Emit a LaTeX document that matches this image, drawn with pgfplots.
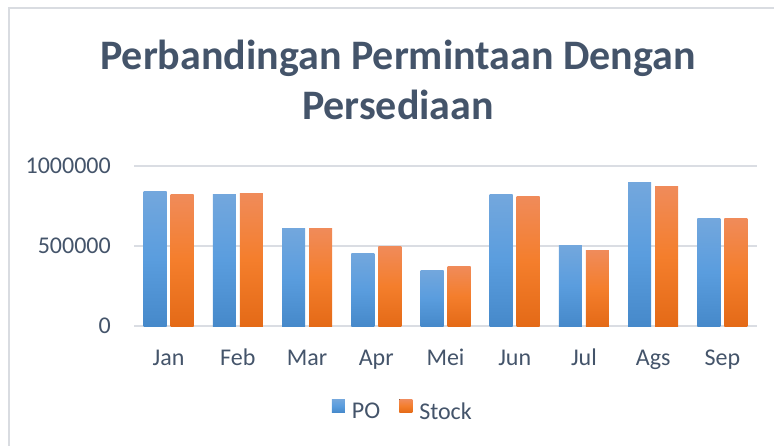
\documentclass[border=0pt]{standalone}
\usepackage{fontspec}
\setmainfont{Carlito}
\usepackage{pgfplots}
\pgfplotsset{compat=1.18}
\definecolor{txt}{HTML}{44546A}
\definecolor{gridc}{HTML}{DADDE3}
\definecolor{framec}{HTML}{D9DCE1}
\definecolor{bA}{HTML}{73A7DD}
\definecolor{bB}{HTML}{5A9DDE}
\definecolor{bC}{HTML}{4689CA}
\definecolor{oA}{HTML}{F08B5A}
\definecolor{oB}{HTML}{F47E2C}
\definecolor{oC}{HTML}{E46A17}
\pgfplotsset{
  mybar/.style={ybar, bar width=23pt, draw=none,
    legend image code/.code={\fill[##1] (0pt,-1pt) rectangle (13pt,12pt);}},
  po/.style={mybar, bar shift=-13.5pt, top color=bA, bottom color=bC, middle color=bB},
  st/.style={mybar, bar shift=13.5pt, top color=oA, bottom color=oC, middle color=oB},
}
\begin{document}
\begin{tikzpicture}[x=1pt,y=1pt]
\useasboundingbox (0,0) rectangle (774,-445);
\draw[color=framec, line width=1.2pt] (9,-446) -- (9,-8) -- (775,-8);
\node[anchor=base, inner sep=0pt, font=\fontsize{42}{50}\selectfont\bfseries, text=txt] at (398,-69) {Perbandingan Permintaan Dengan};
\node[anchor=base, inner sep=0pt, font=\fontsize{42}{50}\selectfont\bfseries, text=txt] at (398,-119) {Persediaan};
\begin{axis}[
  at={(134pt,-326pt)}, anchor=south west,
  scale only axis, width=623pt, height=160pt,
  xmin=-0.5, xmax=8.5, ymin=0, ymax=1000000,
  axis line style={draw=none}, tick style={draw=none},
  ymajorgrids, grid style={color=gridc, line width=1.2pt},
  scaled y ticks=false,
  ytick={0,500000,1000000}, yticklabels={0,500000,1000000},
  xtick={0,1,2,3,4,5,6,7,8},
  xticklabels={Jan,Feb,Mar,Apr,Mei,Jun,Jul,Ags,Sep},
  ticklabel style={font=\fontsize{24}{29}\selectfont, text=txt},
  yticklabel style={anchor=east, inner sep=0pt, xshift=-23pt},
  xticklabel style={anchor=base, inner sep=0pt, yshift=-39pt},
  legend style={at={(0.430,-0.525)}, anchor=center, draw=none, fill=none,
    legend columns=2, font=\fontsize{24}{29}\selectfont, text=txt,
    nodes={inner sep=0pt},
    /tikz/every odd column/.append style={column sep=7pt},
    /tikz/every even column/.append style={column sep=19pt}},
]
\addplot[po] coordinates {(0,843750)};
\addlegendentry{PO}
\addplot[st] coordinates {(0,825000)};
\addlegendentry{Stock}
\addplot[po, forget plot] coordinates {(1,825000)};
\addplot[po, forget plot] coordinates {(2,612500)};
\addplot[po, forget plot] coordinates {(3,456000)};
\addplot[po, forget plot] coordinates {(4,350000)};
\addplot[po, forget plot] coordinates {(5,819000)};
\addplot[po, forget plot] coordinates {(6,506000)};
\addplot[po, forget plot] coordinates {(7,894000)};
\addplot[po, forget plot] coordinates {(8,675000)};
\addplot[st, forget plot] coordinates {(1,831000)};
\addplot[st, forget plot] coordinates {(2,612500)};
\addplot[st, forget plot] coordinates {(3,500000)};
\addplot[st, forget plot] coordinates {(4,375000)};
\addplot[st, forget plot] coordinates {(5,812500)};
\addplot[st, forget plot] coordinates {(6,469000)};
\addplot[st, forget plot] coordinates {(7,869000)};
\addplot[st, forget plot] coordinates {(8,675000)};
\end{axis}
\end{tikzpicture}
\end{document}
